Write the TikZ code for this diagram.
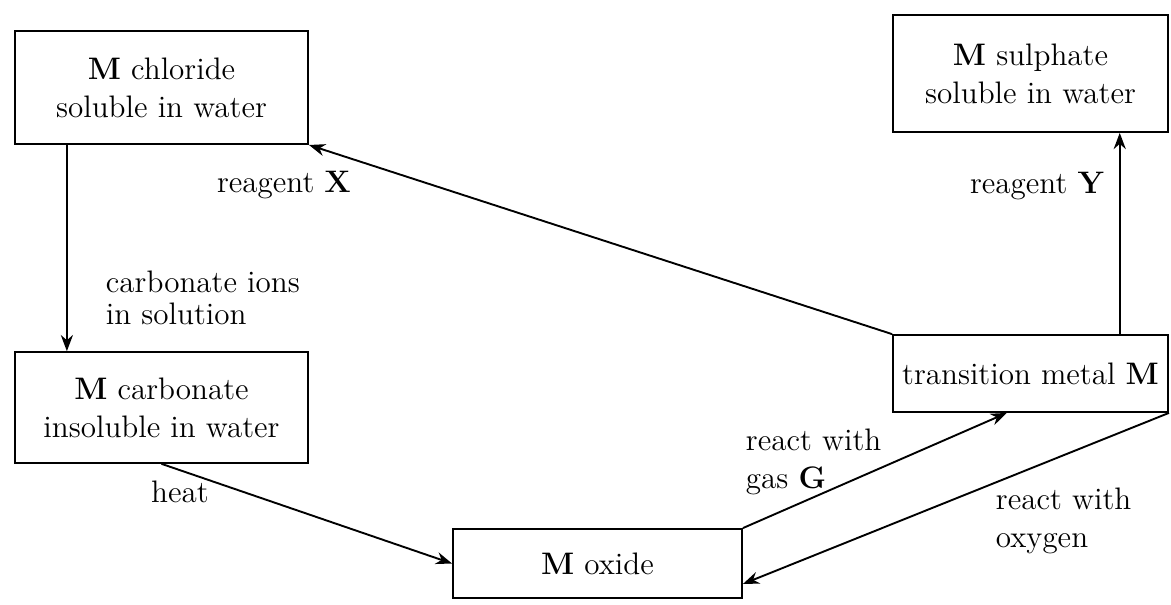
\documentclass[tikz,border=0pt]{standalone}
\usetikzlibrary{arrows.meta}
\begin{document}
\begin{tikzpicture}[x=0.013cm, y=-0.013cm, >={Stealth[length=6pt,width=4.5pt]}, line width=0.7pt, font=\fontsize{11.5}{14}\selectfont]
% Estilos
\tikzset{
  box/.style={rectangle, draw, fill=white, align=center, inner sep=2pt},
  note/.style={align=left, anchor=west, inner sep=0pt}
}
\useasboundingbox (0,0) rectangle (1171,604);

% Caixa M chloride
\node[box, minimum width=3.81cm, minimum height=1.47cm] (chloride_box) at (161.5,87.5) {\textbf{M} chloride\\soluble in water};

% Caixa M sulphate
\node[box, minimum width=3.575cm, minimum height=1.52cm] (sulphate_box) at (1030.5,73.5) {\textbf{M} sulphate\\soluble in water};

% Caixa M carbonate
\node[box, minimum width=3.81cm, minimum height=1.44cm] (carbonate_box) at (161.5,407.5) {\textbf{M} carbonate\\insoluble in water};

% Caixa transition metal M
\node[box, minimum width=3.575cm, minimum height=1.0cm] (metal_box) at (1030.5,373.5) {transition metal \textbf{M}};

% Caixa M oxide
\node[box, minimum width=3.757cm, minimum height=0.897cm] (oxide_box) at (597.5,563.5) {\textbf{M} oxide};

% Reacoes
\draw[->] ([xshift=-1.23cm]chloride_box.south) -- ([xshift=-1.23cm]carbonate_box.north);
\draw[->] (metal_box.north west) -- (chloride_box.south east);
\draw[->] ([xshift=1.16cm]metal_box.north) -- ([xshift=1.16cm]sulphate_box.south);
\draw[->] (carbonate_box.south) -- (oxide_box.west);
\draw[->] (oxide_box.north east) -- (metal_box.239);
\draw[->] (metal_box.south east) -- (oxide_box.-8);

% Legendas
\node[anchor=center] (reagx_note) at (284,185) {reagent \textbf{X}};
\node[anchor=center] (reagy_note) at (1037,186) {reagent \textbf{Y}};
\node[note] (carb_note) at (105,298) {carbonate ions\\[-2pt]in solution};
\node[anchor=center] (heat_note) at (180,492) {heat};
\node[note] (gas_note) at (745,462) {react with\\gas \textbf{G}};
\node[note] (oxy_note) at (995,521) {react with\\oxygen};

\end{tikzpicture}
\end{document}
